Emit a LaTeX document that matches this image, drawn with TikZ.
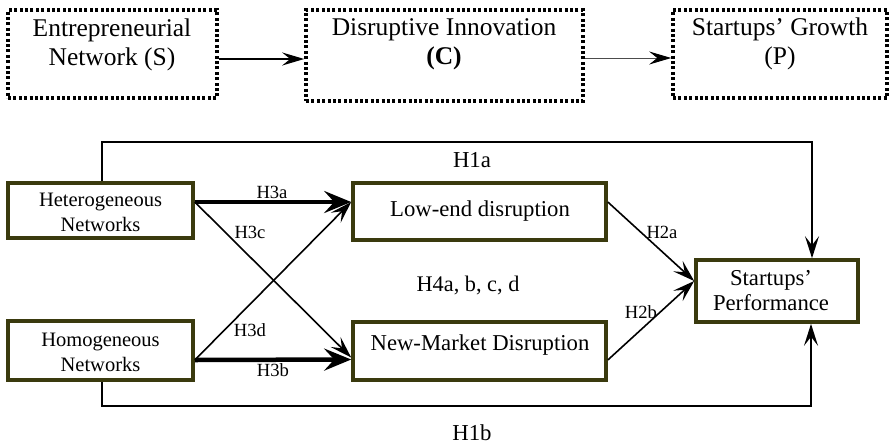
\documentclass[tikz,border=0pt]{standalone}
\usepackage{fontspec}
\setmainfont{Liberation Serif}
\usetikzlibrary{arrows.meta,calc}
\definecolor{olive}{RGB}{58,58,14}
\begin{document}
\begin{tikzpicture}[x=1pt,y=-1pt,
  dotbox/.style={draw=black, line width=3.6pt, dash pattern=on 3pt off 2.4pt, rectangle, inner sep=0pt},
  obox/.style={draw=olive, line width=3.6pt, rectangle, inner sep=0pt, fill=white},
  toptext/.style={align=center, font=\fontsize{25.5}{29}\selectfont, inner sep=0pt},
  boxtext/.style={align=center, font=\fontsize{20.5}{25}\selectfont, inner sep=0pt},
  midtext/.style={align=center, font=\fontsize{22.7}{25}\selectfont, inner sep=0pt},
  hlab/.style={font=\fontsize{18.6}{20}\selectfont, inner sep=0pt},
  biglab/.style={font=\fontsize{22.8}{24}\selectfont, inner sep=0pt},
  thin/.style={line width=1.6pt, -{Stealth[length=22pt,width=14pt,inset=9pt]}},
  thick/.style={line width=4.5pt, -{Stealth[length=27pt,width=22pt,inset=10pt]}}
]
\useasboundingbox (0,0) rectangle (890,445);
% top row
\node[dotbox, minimum width=209pt, minimum height=88pt] (s) at (112.5,54) {};
\node[dotbox, minimum width=277pt, minimum height=91pt] (c) at (444.5,55.5) {};
\node[dotbox, minimum width=214pt, minimum height=88pt] (p) at (780,54) {};
\node[toptext] (st) at (112,45) {Entrepreneurial\\Network (S)};
\node[toptext] (ct) at (444,44) {Disruptive Innovation\\\textbf{(C)}};
\node[toptext] (pt) at (780,44) {Startups’ Growth\\(P)};
\draw[line width=2pt, -{Stealth[length=22pt,width=13pt,inset=8pt]}] ([yshift=-5pt]s.east) -- ([yshift=-5pt]s.east -| c.west);
\draw[line width=1pt, draw=black!70, -{Stealth[length=22pt,width=13pt,inset=8pt,color=black]}] ([yshift=-2.5pt]c.east) -- ([yshift=-2.5pt]c.east -| p.west);
% bottom boxes
\node[obox, minimum width=185pt, minimum height=55pt] (het) at (100.5,210.5) {};
\node[boxtext] (hett) at (100.5,212.5) {Heterogeneous\\Networks};
\node[obox, minimum width=185pt, minimum height=59pt] (hom) at (100.5,350.5) {};
\node[boxtext] (homt) at (100.5,352) {Homogeneous\\Networks};
\node[obox, minimum width=253pt, minimum height=57pt] (low) at (479.5,211.5) {};
\node[midtext] (lowt) at (480,211) {Low-end disruption};
\node[obox, minimum width=253pt, minimum height=58pt] (nm) at (479.5,351) {};
\node[midtext] (nmt) at (480,345) {New-Market Disruption};
\node[obox, minimum width=162pt, minimum height=62pt] (sp) at (777,291) {};
\node[midtext] (spt) at (771,290.5) {Startups’\\Performance};
% coordinates
\coordinate (toprail) at (0,142);
\coordinate (botrail) at (0,406);
\coordinate (hetn) at ([xshift=1.5pt]het.north);
\coordinate (homs) at ([xshift=1.5pt]hom.south);
\coordinate (spn) at ([xshift=35pt]sp.north);
\coordinate (sps) at ([xshift=34pt]sp.south);
% H1
\draw[thin] (hetn) -- (hetn |- toprail) -| (spn);
\draw[thin] (homs) -- (homs |- botrail) -| (sps);
% H3
\draw[thick] ([yshift=8.5pt]het.east) -- ([yshift=9.5pt]low.west);
\draw[thick] ([yshift=-9.5pt]hom.east) -- ([yshift=-8.5pt]nm.west);
\draw[thin] ([yshift=8.5pt]het.east) -- ([yshift=-6.5pt]nm.west);
\draw[thin] ([yshift=-9.5pt]hom.east) -- ([yshift=9.5pt]low.west);
% H2
\draw[thin] ([yshift=9.5pt]low.east) -- ([yshift=10pt]sp.west);
\draw[thin] ([yshift=-9pt]nm.east) -- ([yshift=10pt]sp.west);
% labels
\node[biglab] (h1a) at (472,160) {H1a};
\node[biglab] (h1b) at (472,433) {H1b};
\node[hlab] (h3a) at (272,192) {H3a};
\node[hlab] (h3c) at (250,232) {H3c};
\node[hlab] (h3d) at (250,330) {H3d};
\node[hlab] (h3b) at (273,370) {H3b};
\node[hlab] (h2a) at (662,232) {H2a};
\node[hlab] (h2b) at (641,312) {H2b};
\node[font=\fontsize{22.3}{24}\selectfont, inner sep=0pt] (h4) at (468,285) {H4a, b, c, d};
\end{tikzpicture}
\end{document}
